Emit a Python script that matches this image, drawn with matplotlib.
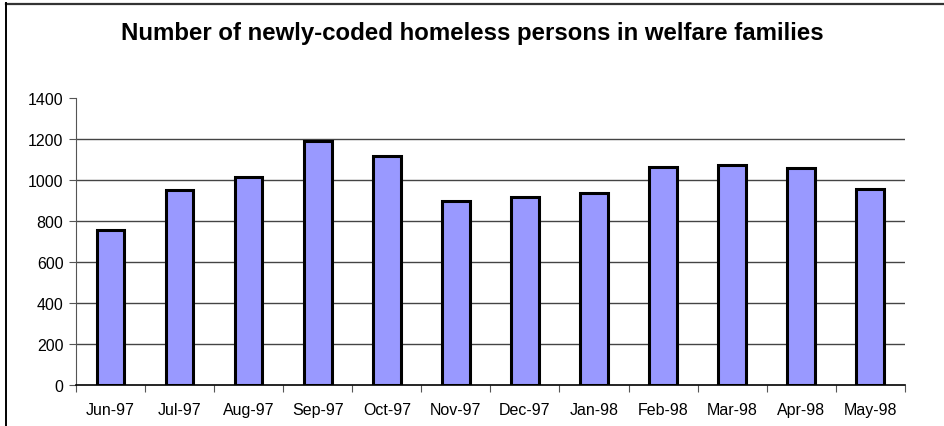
import numpy as np
import matplotlib
matplotlib.use('Agg')
import matplotlib.pyplot as plt
from matplotlib.lines import Line2D

plt.rcParams['font.family'] = ['Liberation Sans', 'DejaVu Sans']

months = ['Jun-97', 'Jul-97', 'Aug-97', 'Sep-97', 'Oct-97', 'Nov-97',
          'Dec-97', 'Jan-98', 'Feb-98', 'Mar-98', 'Apr-98', 'May-98']
persons = [756, 953, 1016, 1190, 1119, 899, 915, 937, 1062, 1073, 1057, 956]
yticks = [0, 200, 400, 600, 800, 1000, 1200, 1400]

fig = plt.figure(figsize=(9.44, 4.27), dpi=100)
ax = fig.add_axes([0.0805, 0.096, 0.878, 0.672])

x = np.arange(len(months))
ax.bar(x, persons, width=0.4, color='#9999ff', edgecolor='black',
       linewidth=2.2, zorder=3)

# grid lines, skip the one at the top
for v in yticks[1:-1]:
    ax.axhline(v, color='#444444', linewidth=1.0, zorder=1)

ax.set_xlim(-0.5, len(months) - 0.5)
ax.set_ylim(0, 1400)
ax.set_yticks(yticks)
ax.tick_params(axis='y', length=5, direction='out', color='#555555',
               labelsize=11.5, pad=4)

# tick marks between categories, labels in the middle
ax.set_xticks(np.arange(len(months) + 1) - 0.5)
ax.set_xticklabels([])
ax.set_xticks(x, minor=True)
ax.set_xticklabels(months, minor=True, fontsize=11.5)
ax.tick_params(axis='x', which='major', length=5, direction='out', color='#555555')
ax.tick_params(axis='x', which='minor', length=0, pad=12)

for s in ['top', 'right']:
    ax.spines[s].set_visible(False)
ax.spines['left'].set_color('#555555')
ax.spines['bottom'].set_color('black')
ax.spines['bottom'].set_linewidth(1.2)

fig.text(0.5, 0.922, 'Number of newly-coded homeless persons in welfare families',
         ha='center', va='center', fontsize=17.3, fontweight='bold')

# chart frame: top and left edges only
fig.lines.append(Line2D([0.0068, 1.0], [0.9885, 0.9885], transform=fig.transFigure,
                        color='#333333', linewidth=1.6))
fig.lines.append(Line2D([0.0068, 0.0068], [0.0, 0.99], transform=fig.transFigure,
                        color='black', linewidth=1.4))

plt.savefig('out.png', dpi=100)
plt.close()
